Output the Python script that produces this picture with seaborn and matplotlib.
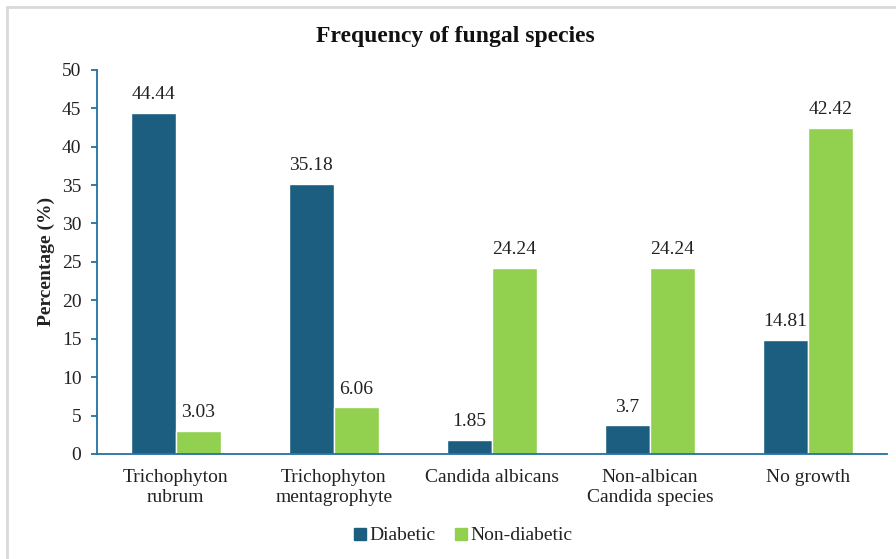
import pandas as pd
import matplotlib.pyplot as plt
import seaborn as sns
from matplotlib.lines import Line2D

categories = ['Trichophyton\nrubrum', 'Trichophyton\nmentagrophyte', 'Candida albicans',
              'Non-albican\nCandida species', 'No growth']
diabetic = [44.44, 35.18, 1.85, 3.7, 14.81]
non_diabetic = [3.03, 6.06, 24.24, 24.24, 42.42]
groups = ['Diabetic', 'Non-diabetic']

df = pd.DataFrame({
    'species': categories * 2,
    'value': diabetic + non_diabetic,
    'group': [groups[0]] * 5 + [groups[1]] * 5,
})

sns.set_style('white')
plt.rcParams['font.family'] = ['Liberation Serif', 'DejaVu Serif']

spine_col = '#2471A3'
txt_col = '#222222'
colors = {'Diabetic': '#1B5E80', 'Non-diabetic': '#92D050'}
fs = 14

fig = plt.figure(figsize=(8.96, 5.59), dpi=100)
ax = fig.add_axes([0.108, 0.188, 0.882, 0.687])

sns.barplot(data=df, x='species', y='value', hue='group', palette=colors,
            width=0.57, ax=ax, legend=False, saturation=1)

for cont in ax.containers:
    labels = [('%g' % v) for v in cont.datavalues]
    ax.bar_label(cont, labels=labels, padding=7, fontsize=fs, color=txt_col)

ax.set_xlim(-0.5, 4.5)
ax.set_ylim(0, 50)
ax.set_yticks(range(0, 51, 5))
ax.set_xlabel('')
ax.set_ylabel('Percentage (%)', fontsize=fs, fontweight='bold', color=txt_col)
ax.yaxis.set_label_coords(-0.053, 0.5)

for s in ['top', 'right']:
    ax.spines[s].set_visible(False)
for s in ['left', 'bottom']:
    ax.spines[s].set_color(spine_col)
    ax.spines[s].set_linewidth(1.3)

ax.tick_params(axis='y', direction='out', length=4, width=1.3, color=spine_col,
               labelsize=fs, labelcolor=txt_col, pad=7, left=True)
ax.tick_params(axis='x', length=0, labelsize=fs, labelcolor=txt_col, pad=11)
for t in ax.get_xticklabels():
    t.set_linespacing(1.25)

fig.text(0.508, 0.935, 'Frequency of fungal species', ha='center', va='center',
         fontsize=17, fontweight='bold', color='#111111')

handles = [Line2D([], [], marker='s', linestyle='', markersize=8,
                  markerfacecolor=colors[g], markeredgecolor=colors[g]) for g in groups]
fig.legend(handles, groups, loc='center', bbox_to_anchor=(0.515, 0.042), ncol=2,
           frameon=False, fontsize=fs, handletextpad=0.0, columnspacing=0.8,
           handlelength=1.0, labelcolor=txt_col)

# light border around chart area
fig.add_artist(Line2D([0.008, 0.008], [0.0, 0.987], transform=fig.transFigure,
                      color='#D9D9D9', linewidth=2))
fig.add_artist(Line2D([0.008, 1.0], [0.987, 0.987], transform=fig.transFigure,
                      color='#D9D9D9', linewidth=2))

fig.savefig('out.png', dpi=100)
